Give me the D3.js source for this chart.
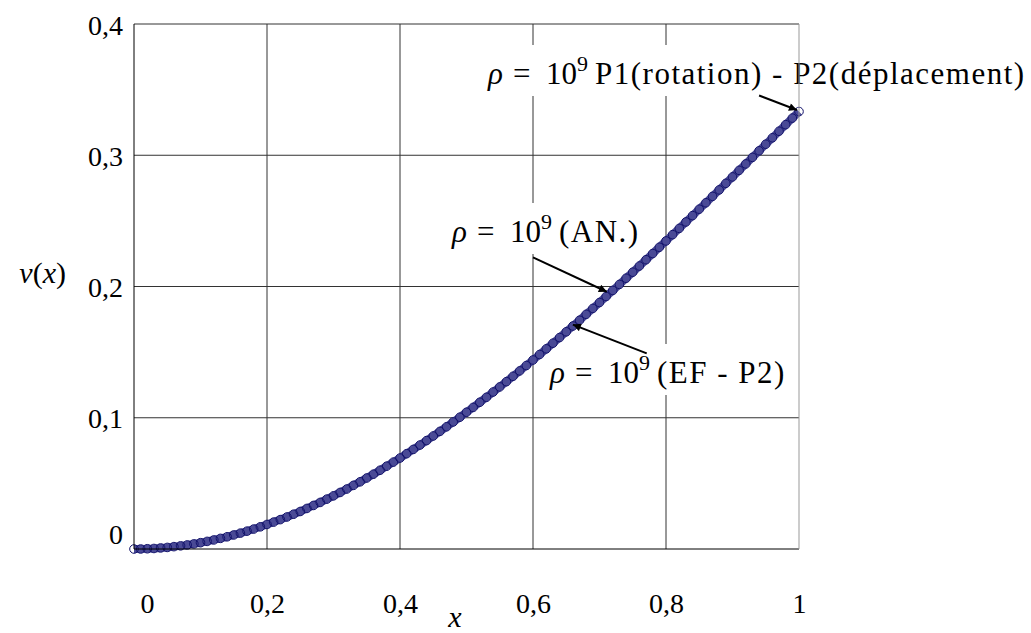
<!DOCTYPE html>
<html>
<head>
<meta charset="utf-8">
<script src="https://cdn.jsdelivr.net/npm/d3@7"></script>
<style>
  body { margin: 0; background: #fff; }
  svg { display: block; }
</style>
</head>
<body>
<svg width="1031" height="633"></svg>
<script>
// x positions of the computed points (step 0.01)
let xValues = d3.range(0, 101).map(i => i / 100);

// v(x), one value per x position
let vValues = [
  0.0000, 0.0000, 0.0002, 0.0004, 0.0008, 0.0012, 0.0018, 0.0024, 0.0031, 0.0039,
  0.0048, 0.0058, 0.0069, 0.0081, 0.0093, 0.0107, 0.0121, 0.0136, 0.0152, 0.0169,
  0.0187, 0.0205, 0.0224, 0.0244, 0.0265, 0.0286, 0.0309, 0.0332, 0.0355, 0.0380,
  0.0405, 0.0431, 0.0457, 0.0485, 0.0512, 0.0541, 0.0570, 0.0600, 0.0631, 0.0662,
  0.0693, 0.0726, 0.0759, 0.0792, 0.0826, 0.0861, 0.0896, 0.0931, 0.0968, 0.1004,
  0.1042, 0.1079, 0.1118, 0.1156, 0.1196, 0.1235, 0.1275, 0.1316, 0.1357, 0.1398,
  0.1440, 0.1482, 0.1525, 0.1568, 0.1611, 0.1655, 0.1699, 0.1743, 0.1788, 0.1833,
  0.1878, 0.1924, 0.1970, 0.2016, 0.2063, 0.2109, 0.2156, 0.2204, 0.2251, 0.2299,
  0.2347, 0.2395, 0.2443, 0.2492, 0.2540, 0.2589, 0.2638, 0.2687, 0.2736, 0.2786,
  0.2835, 0.2885, 0.2934, 0.2984, 0.3034, 0.3084, 0.3133, 0.3183, 0.3233, 0.3283,
  0.3333
];

// tick values and their labels
let xTicks = [0, 0.2, 0.4, 0.6, 0.8, 1];
let xTickLabels = ["0", "0,2", "0,4", "0,6", "0,8", "1"];
let yTicks = [0, 0.1, 0.2, 0.3, 0.4];
let yTickLabels = ["0", "0,1", "0,2", "0,3", "0,4"];

// annotation texts and the arrow start / tip in data units
let annoTexts = ["P1(rotation) - P2(déplacement)", "(AN.)", "(EF - P2)"];
let annoFrom = [[0.94, 0.3455], [0.6, 0.2222], [0.771, 0.149]];
let annoTo = [[0.997, 0.3345], [0.711, 0.196], [0.66, 0.171]];
// label placement (pixels)
let annoPos = [[488, 84], [452, 242], [550, 383]];

let svg = d3.select("svg");
let plotLeft = 134, plotRight = 799, plotTop = 24, plotBottom = 549;
let serif = '"Liberation Serif"';

let xScale = d3.scaleLinear().domain([0, 1]).range([plotLeft, plotRight]);
let yScale = d3.scaleLinear().domain([0, 0.4]).range([plotBottom, plotTop]);

// grid lines
let grid = svg.append("g");
grid.selectAll(".vgrid")
    .data(xTicks.slice(1, -1))
    .enter()
    .append("line")
    .attr("x1", d => xScale(d)).attr("x2", d => xScale(d))
    .attr("y1", plotTop).attr("y2", plotBottom)
    .attr("stroke", "#333").attr("stroke-width", 1);
grid.selectAll(".hgrid")
    .data(yTicks.slice(1, -1))
    .enter()
    .append("line")
    .attr("x1", plotLeft).attr("x2", plotRight)
    .attr("y1", d => yScale(d)).attr("y2", d => yScale(d))
    .attr("stroke", "#333").attr("stroke-width", 1);

// tick labels
let xAxis = d3.axisBottom(xScale).tickValues(xTicks).tickSize(0).tickPadding(0)
  .tickFormat((d, i) => xTickLabels[i]);
let xg = svg.append("g").attr("transform", `translate(0, ${plotBottom})`).call(xAxis);
xg.select(".domain").remove();
xg.selectAll("text")
  .style("font-family", serif).style("font-size", "28px")
  .attr("fill", "#000")
  .attr("y", 64).attr("dy", 0)
  .attr("dx", d => d === 0 ? 13 : 0);

let yAxis = d3.axisLeft(yScale).tickValues(yTicks).tickSize(0).tickPadding(11)
  .tickFormat((d, i) => yTickLabels[i]);
let yg = svg.append("g").attr("transform", `translate(${plotLeft}, 0)`).call(yAxis);
yg.select(".domain").remove();
yg.selectAll("text")
  .style("font-family", serif).style("font-size", "28px")
  .attr("fill", "#000")
  .attr("dy", d => d === 0 ? -6 : 10);

// arrow marker
svg.append("defs").append("marker")
   .attr("id", "arrow")
   .attr("viewBox", "0 0 10 10")
   .attr("refX", 10).attr("refY", 5)
   .attr("markerWidth", 11).attr("markerHeight", 8)
   .attr("markerUnits", "userSpaceOnUse")
   .attr("orient", "auto")
   .append("path").attr("d", "M0,0 L10,5 L0,10 Z").attr("fill", "#000");

// annotation labels with white boxes hiding the grid
annoTexts.forEach((txt, i) => {
  let [tx, ty] = annoPos[i];
  let g = svg.append("g");
  let box = g.append("rect").attr("fill", "#fff");
  let t = g.append("text")
    .attr("y", ty)
    .style("font-family", serif).style("font-size", "31px")
    .attr("fill", "#000");
  t.append("tspan").attr("x", tx).style("font-style", "italic").text("ρ");
  t.append("tspan").attr("x", tx + 25).text("=");
  t.append("tspan").attr("x", tx + 58).text("10");
  t.append("tspan").attr("x", tx + 89).attr("dy", -13).style("font-size", "22px").text("9");
  t.append("tspan").attr("x", tx + 107).attr("dy", 13)
    .style("letter-spacing", "1.5px").text(txt);
  let bb = t.node().getBBox();
  box.attr("x", bb.x - 4).attr("y", ty - 39)
     .attr("width", bb.width + 8).attr("height", 51);
});

// curve: thick band plus open circle markers
let points = xValues.map((x, i) => [x, vValues[i]]);
let line = d3.line().x(d => xScale(d[0])).y(d => yScale(d[1]));
svg.append("path")
   .datum(points)
   .attr("d", line)
   .attr("fill", "none")
   .attr("stroke", "#4a4a96")
   .attr("stroke-width", 8);
svg.append("g").selectAll("circle")
   .data(points)
   .enter()
   .append("circle")
   .attr("cx", d => xScale(d[0]))
   .attr("cy", d => yScale(d[1]))
   .attr("r", 4.3)
   .attr("fill", "none")
   .attr("stroke", "#12126a")
   .attr("stroke-width", 1);

// arrows
annoFrom.forEach((from, i) => {
  let to = annoTo[i];
  svg.append("line")
     .attr("x1", xScale(from[0])).attr("y1", yScale(from[1]))
     .attr("x2", xScale(to[0])).attr("y2", yScale(to[1]))
     .attr("stroke", "#000").attr("stroke-width", 2)
     .attr("marker-end", "url(#arrow)");
});

// plot frame
svg.append("line").attr("x1", plotLeft).attr("x2", plotRight).attr("y1", plotTop).attr("y2", plotTop)
   .attr("stroke", "#333");
svg.append("line").attr("x1", plotLeft).attr("x2", plotRight).attr("y1", plotBottom).attr("y2", plotBottom)
   .attr("stroke", "#000");
svg.append("line").attr("x1", plotLeft).attr("x2", plotLeft).attr("y1", plotTop).attr("y2", plotBottom)
   .attr("stroke", "#000");
svg.append("line").attr("x1", plotRight).attr("x2", plotRight).attr("y1", plotTop).attr("y2", plotBottom)
   .attr("stroke", "#999");

// axis titles
let yt = svg.append("text").attr("x", 66).attr("y", 283).attr("text-anchor", "end")
  .style("font-family", serif).style("font-size", "30px");
yt.append("tspan").style("font-style", "italic").text("v");
yt.append("tspan").text("(");
yt.append("tspan").style("font-style", "italic").text("x");
yt.append("tspan").text(")");
svg.append("text").attr("x", 455).attr("y", 627).attr("text-anchor", "middle")
   .style("font-family", serif).style("font-size", "30px").style("font-style", "italic").text("x");
</script>
</body>
</html>
